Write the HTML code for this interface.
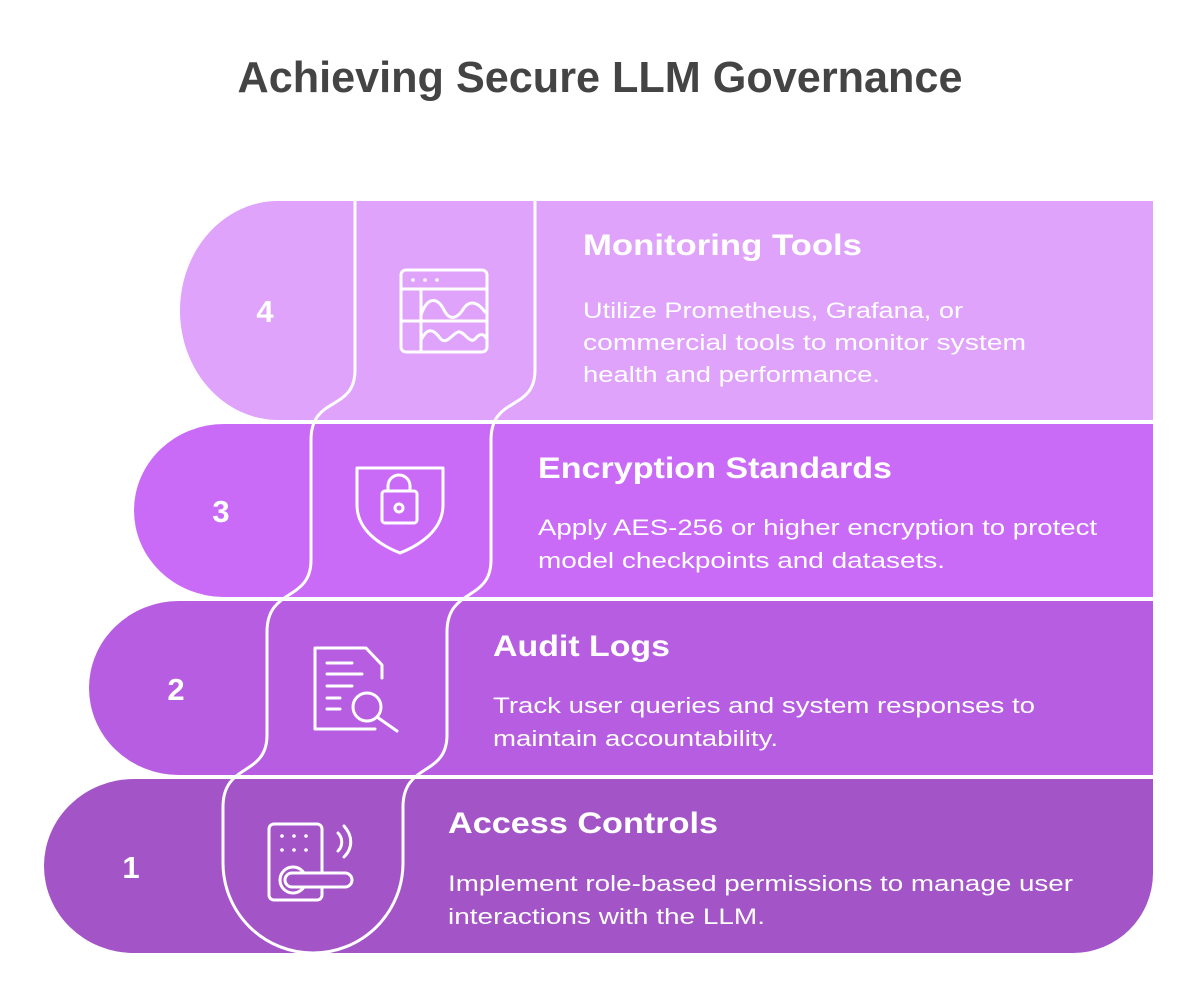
<!DOCTYPE html>
<html><head><meta charset="utf-8"><style>html,body{margin:0;padding:0;background:#fff}svg{display:block}</style></head>
<body>
<svg width="1200" height="1000" viewBox="0 0 1200 1000" xmlns="http://www.w3.org/2000/svg" font-family="Liberation Sans, sans-serif">
<rect width="1200" height="1000" fill="#fff"/>
<text x="600" y="92" text-anchor="middle" font-size="44" font-weight="bold" fill="#444" textLength="725" lengthAdjust="spacingAndGlyphs">Achieving Secure LLM Governance</text>

<path d="M278,201 H1153 V420 H278 A98,109.5 0 0 1 278,201 Z" fill="#e0a3fc"/>
<path d="M224,424 H1153 V597 H224 A90,86.5 0 0 1 224,424 Z" fill="#ca6bf8"/>
<path d="M179,601 H1153 V775 H179 A90,87 0 0 1 179,601 Z" fill="#b75de1"/>
<path d="M134,779 H1153 V873 A80,80 0 0 1 1073,953 H134 A90,87 0 0 1 134,779 Z" fill="#a354c7"/>

<path d="M355,201 L355,370 C355,412 311,395 311,440 L311,560 C311,602 267,587 267,632 L267,735 C267,777 223,762 223,807 L223,863 A90,90 0 0 0 403,863 L403,807 C403,762 447,777 447,735 L447,632 C447,587 491,602 491,560 L491,440 C491,395 535,412 535,370 L535,201" fill="none" stroke="#fff" stroke-width="3"/>

<g fill="#fff" font-weight="bold" font-size="31" text-anchor="middle">
<text x="265" y="322">4</text>
<text x="221" y="522">3</text>
<text x="176" y="700">2</text>
<text x="131" y="878">1</text>
</g>

<g fill="none" stroke="#fff" stroke-width="3" stroke-linecap="round" stroke-linejoin="round">
  <rect x="401" y="270" width="86" height="82" rx="5"/>
  <line x1="401" y1="289" x2="487" y2="289"/>
  <line x1="421" y1="289" x2="421" y2="352"/>
  <line x1="401" y1="321" x2="487" y2="321"/>
  <path d="M421,315 C428,295 438,298 444,310 C450,322 458,318 464,308 C470,300 478,302 485,312"/>
  <path d="M421,340 C428,326 434,330 440,338 C446,346 452,334 458,332 C464,330 470,346 476,338 C480,333 484,334 486,338"/>
  <path d="M357,468 H443 V505 C443,530 420,545 400,553 C380,545 357,530 357,505 Z"/>
  <rect x="382" y="491" width="35" height="32" rx="3"/>
  <path d="M388,491 V486 A11,11 0 0 1 410,486 V491"/>
  <circle cx="399" cy="508" r="4"/>
  <path d="M375,729 H315 V648 H366 L382,665 V678"/>
  <line x1="327" y1="663" x2="352" y2="663"/>
  <line x1="327" y1="674" x2="362" y2="674"/>
  <line x1="327" y1="686" x2="352" y2="686"/>
  <line x1="327" y1="698" x2="340" y2="698"/>
  <line x1="327" y1="709" x2="340" y2="709"/>
  <circle cx="367" cy="707" r="14"/>
  <line x1="377" y1="717" x2="397" y2="731"/>
  <rect x="269" y="824" width="53" height="76" rx="5"/>
  <circle cx="293" cy="880" r="13" fill="#a354c7"/>
  <rect x="285" y="873" width="67" height="14" rx="7" fill="#a354c7"/>
  <path d="M338,833 C343,838 343,846 338,851"/>
  <path d="M344,826 C353,836 353,848 344,857"/>
</g>
<g fill="#fff">
  <circle cx="413" cy="280" r="1.8"/><circle cx="425" cy="280" r="1.8"/><circle cx="437" cy="280" r="1.8"/>
  <circle cx="282" cy="836" r="1.8"/><circle cx="294" cy="836" r="1.8"/><circle cx="306" cy="836" r="1.8"/>
  <circle cx="282" cy="850" r="1.8"/><circle cx="294" cy="850" r="1.8"/><circle cx="306" cy="850" r="1.8"/>
</g>

<g fill="#fff">
<text x="583" y="255" font-size="30" font-weight="bold" textLength="279" lengthAdjust="spacingAndGlyphs">Monitoring Tools</text>
<g font-size="22">
<text x="583" y="318" textLength="380" lengthAdjust="spacingAndGlyphs">Utilize Prometheus, Grafana, or</text>
<text x="583" y="350" textLength="443" lengthAdjust="spacingAndGlyphs">commercial tools to monitor system</text>
<text x="583" y="382" textLength="297" lengthAdjust="spacingAndGlyphs">health and performance.</text>
</g>
<text x="538" y="478" font-size="30" font-weight="bold" textLength="354" lengthAdjust="spacingAndGlyphs">Encryption Standards</text>
<g font-size="22">
<text x="538" y="535" textLength="559" lengthAdjust="spacingAndGlyphs">Apply AES-256 or higher encryption to protect</text>
<text x="538" y="568" textLength="407" lengthAdjust="spacingAndGlyphs">model checkpoints and datasets.</text>
</g>
<text x="493" y="656" font-size="30" font-weight="bold" textLength="177" lengthAdjust="spacingAndGlyphs">Audit Logs</text>
<g font-size="22">
<text x="493" y="713" textLength="542" lengthAdjust="spacingAndGlyphs">Track user queries and system responses to</text>
<text x="493" y="746" textLength="285" lengthAdjust="spacingAndGlyphs">maintain accountability.</text>
</g>
<text x="448" y="833" font-size="30" font-weight="bold" textLength="270" lengthAdjust="spacingAndGlyphs">Access Controls</text>
<g font-size="22">
<text x="448" y="891" textLength="625" lengthAdjust="spacingAndGlyphs">Implement role-based permissions to manage user</text>
<text x="448" y="924" textLength="317" lengthAdjust="spacingAndGlyphs">interactions with the LLM.</text>
</g>
</g>
</svg>
</body></html>
